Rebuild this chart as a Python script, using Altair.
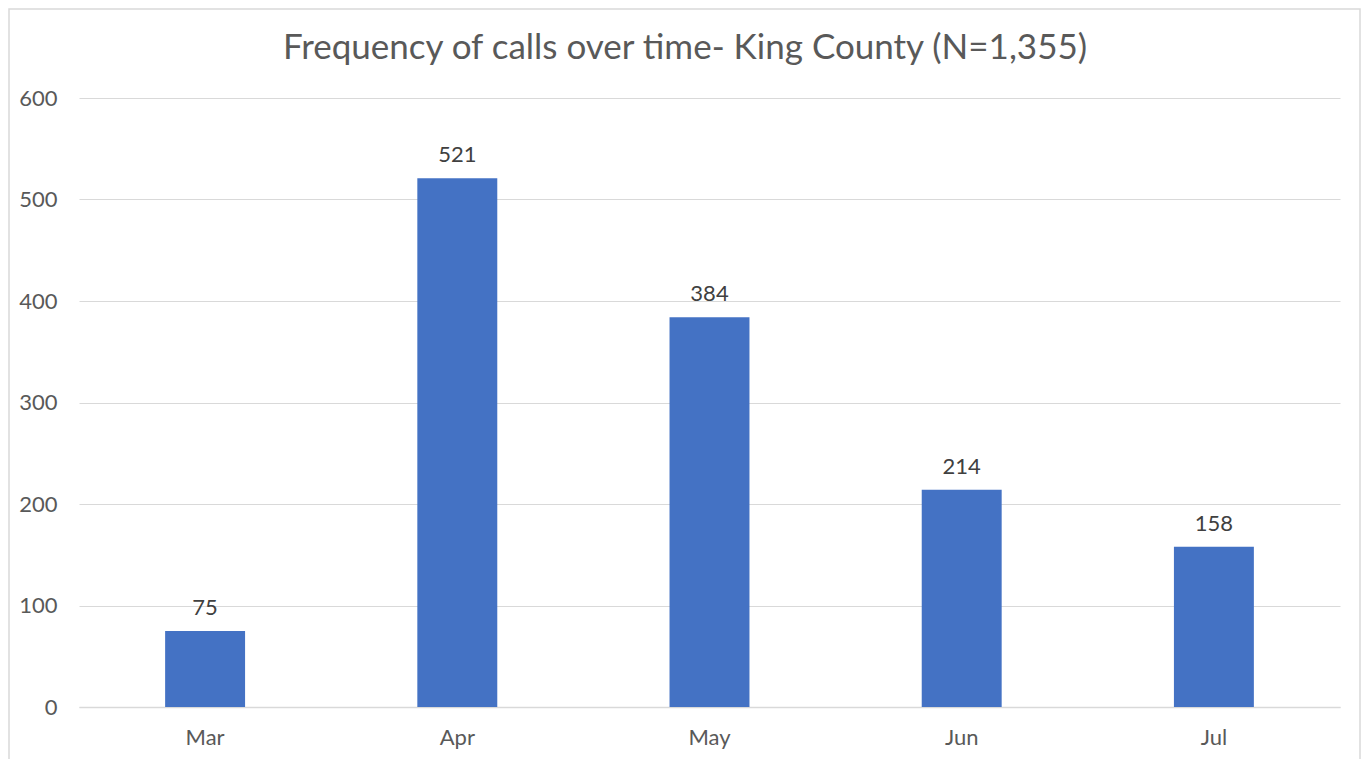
import altair as alt
import pandas as pd

months = ["Mar", "Apr", "May", "Jun", "Jul"]
calls = [75, 521, 384, 214, 158]
title_text = "Frequency of calls over time- King County (N=1,355)"
y_ticks = [0, 100, 200, 300, 400, 500, 600]

df = pd.DataFrame({"month": months, "calls": calls})
FONT = "Lato"

x = alt.X("month:N", sort=months, title=None,
          scale=alt.Scale(paddingInner=0.683, paddingOuter=0.3415),
          axis=alt.Axis(labelAngle=0, labelFont=FONT, labelFontSize=22,
                        labelColor="#595959", labelPadding=20, ticks=False,
                        domainColor="#d9d9d9", domainWidth=1.5, grid=False))
y = alt.Y("calls:Q", title=None,
          scale=alt.Scale(domain=[0, 600], nice=False),
          axis=alt.Axis(values=y_ticks, labelFont=FONT, labelFontSize=22,
                        labelColor="#595959", labelPadding=22, ticks=False,
                        domain=False, grid=True, gridColor="#d9d9d9", gridWidth=1))

bars = alt.Chart(df).mark_bar(color="#4472c4").encode(x=x, y=y)
labels = alt.Chart(df).mark_text(font=FONT, fontSize=22, color="#404040",
                                 baseline="alphabetic", dy=-16).encode(
    x=alt.X("month:N", sort=months), y="calls:Q", text="calls:Q")

title_mark = alt.Chart(pd.DataFrame({"t": [title_text]})).mark_text(
    font=FONT, fontSize=35, color="#595959", align="center",
    baseline="middle", clip=False).encode(
    x=alt.value(606), y=alt.value(-50), text="t:N")

border = alt.Chart(pd.DataFrame({"a": [0]})).mark_rect(
    fill=None, stroke="#d9d9d9", strokeWidth=1.5, clip=False).encode(
    x=alt.value(-70), x2=alt.value(1281), y=alt.value(-89), y2=alt.value(662))

chart = alt.layer(border, bars, labels, title_mark).properties(
    width=1261, height=609,
    padding={"left": 71, "top": 90, "right": 21, "bottom": 52},
    autosize=alt.AutoSizeParams(type="none"),
).configure_view(stroke=None)

chart.save("out.html", embed_options={"renderer": "svg", "actions": False})
